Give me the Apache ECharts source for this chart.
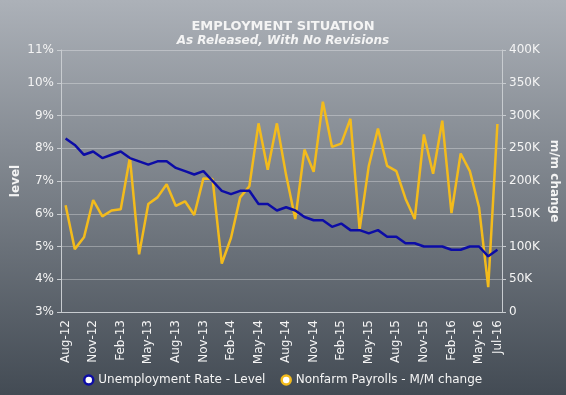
<!DOCTYPE html>
<html><head><meta charset="utf-8">
<script src="https://cdn.jsdelivr.net/npm/echarts@6/dist/echarts.min.js"></script>
<style>html,body{margin:0;padding:0;}#c{width:566px;height:395px;}</style>
</head><body><div id="c"></div>
<script>
const months = ['Aug-12','Sep-12','Oct-12','Nov-12','Dec-12','Jan-13','Feb-13','Mar-13','Apr-13','May-13','Jun-13','Jul-13',
'Aug-13','Sep-13','Oct-13','Nov-13','Dec-13','Jan-14','Feb-14','Mar-14','Apr-14','May-14','Jun-14','Jul-14',
'Aug-14','Sep-14','Oct-14','Nov-14','Dec-14','Jan-15','Feb-15','Mar-15','Apr-15','May-15','Jun-15','Jul-15',
'Aug-15','Sep-15','Oct-15','Nov-15','Dec-15','Jan-16','Feb-16','Mar-16','Apr-16','May-16','Jun-16','Jul-16'];
const unemploymentRate = [8.3,8.1,7.8,7.9,7.7,7.8,7.9,7.7,7.6,7.5,7.6,7.6,
7.4,7.3,7.2,7.3,7.0,6.7,6.6,6.7,6.7,6.3,6.3,6.1,
6.2,6.1,5.9,5.8,5.8,5.6,5.7,5.5,5.5,5.4,5.5,5.3,
5.3,5.1,5.1,5.0,5.0,5.0,4.9,4.9,5.0,5.0,4.7,4.9];
const nonfarmPayrolls = [163,96,114,171,146,155,157,236,88,165,175,195,
162,169,148,204,203,74,113,175,192,288,217,288,
209,142,248,214,321,252,257,295,126,223,280,223,
215,173,142,271,211,292,151,242,215,160,38,287];
const leftTicks = {min:3, max:11, step:1};
const rightTicks = {min:0, max:400, step:50};

const chart = echarts.init(document.getElementById('c'));
const font = 'DejaVu Sans';
const txt = '#f4f4f4';
const blue = '#0c0ca6', gold = '#f3bb1c';
chart.setOption({
  backgroundColor: {type:'linear',x:0,y:0,x2:0,y2:1,colorStops:[{offset:0,color:'#acb1b8'},{offset:1,color:'#434b54'}]},
  animation:false,
  title:{
    text:'EMPLOYMENT SITUATION',
    subtext:'As Released, With No Revisions',
    left:'center', top:15, itemGap:2,
    textStyle:{color:txt,fontFamily:font,fontSize:13,fontWeight:'bold'},
    subtextStyle:{color:txt,fontFamily:font,fontSize:12,fontWeight:'bold',fontStyle:'italic'}
  },
  legend:{
    bottom:4, left:78, itemWidth:9, itemHeight:9, itemGap:15,
    textStyle:{color:txt,fontFamily:font,fontSize:12},
    data:[{name:'Unemployment Rate - Level',icon:'circle',itemStyle:{color:'#ffffff',borderColor:blue,borderWidth:2.5}},
          {name:'Nonfarm Payrolls - M/M change',icon:'circle',itemStyle:{color:'#ffffff',borderColor:gold,borderWidth:2.5}}]
  },
  grid:{left:61,right:64,top:50,bottom:83,containLabel:false,outerBoundsMode:'none'},
  xAxis:{
    type:'category', data:months, boundaryGap:true,
    axisLine:{lineStyle:{color:'#c8ccd0'}},
    axisTick:{show:false},
    axisLabel:{rotate:90,color:txt,fontFamily:font,fontSize:12,margin:8,
      interval:(i)=> i%3===0 || i===months.length-1}
  },
  yAxis:[{
    type:'value', min:leftTicks.min, max:leftTicks.max, interval:leftTicks.step,
    name:'level', nameLocation:'middle', nameRotate:90, nameGap:39, nameMoveOverlap:false,
    nameTextStyle:{color:txt,fontFamily:font,fontSize:12,fontWeight:'bold'},
    axisLine:{show:true,lineStyle:{color:'#c8ccd0'}},
    axisTick:{show:true,length:4,lineStyle:{color:'#c8ccd0'}},
    axisLabel:{color:txt,fontFamily:font,fontSize:12,margin:7,formatter:'{value}%'},
    splitLine:{lineStyle:{color:'rgba(255,255,255,0.3)',width:1}}
  },{
    type:'value', min:rightTicks.min*1000, max:rightTicks.max*1000, interval:rightTicks.step*1000,
    name:'m/m change', nameLocation:'middle', nameRotate:-90, nameGap:46, nameMoveOverlap:false,
    nameTextStyle:{color:txt,fontFamily:font,fontSize:12,fontWeight:'bold'},
    axisLine:{show:true,lineStyle:{color:'#c8ccd0'}},
    axisTick:{show:true,length:4,lineStyle:{color:'#c8ccd0'}},
    axisLabel:{color:txt,fontFamily:font,fontSize:12,margin:7,formatter:(v)=> v===0?'0':(v/1000)+'K'},
    splitLine:{show:false}
  }],
  series:[{
    name:'Unemployment Rate - Level', type:'line', yAxisIndex:0, data:unemploymentRate,
    showSymbol:false, symbol:'circle', color:blue, lineStyle:{width:2.5,color:blue}, z:3
  },{
    name:'Nonfarm Payrolls - M/M change', type:'line', yAxisIndex:1, data:nonfarmPayrolls.map(v=>v*1000),
    showSymbol:false, symbol:'circle', color:gold, lineStyle:{width:2.5,color:gold}, z:2
  }]
});
</script></body></html>
